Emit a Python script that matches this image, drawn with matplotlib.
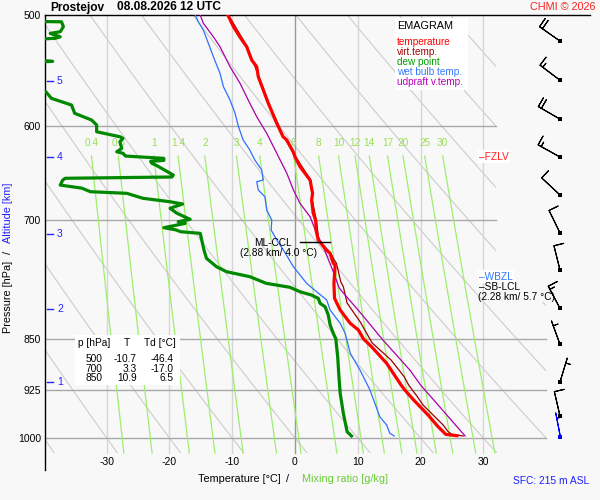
import numpy as np
import matplotlib
matplotlib.use('Agg')
import matplotlib.pyplot as plt
from matplotlib.patches import Polygon, Rectangle
from matplotlib.ticker import NullLocator

plt.rcParams['font.family'] = ['Liberation Sans', 'DejaVu Sans']

# ---------------- data ----------------
temp_p = [500, 509.7, 518.2, 526.7, 538.3, 544.2, 553.2, 565.4, 577.9, 597.2, 610.4, 613.7,
          625.6, 630.7, 641.1, 655.3, 669.7, 677.1, 692.0, 700, 711.2, 723.0, 734.9, 738.9,
          751.1, 753.2, 776.1, 795.4, 810.8, 828.7, 837.8, 850, 861.1, 884.8, 916.8, 924.4,
          939.6, 963.0, 981.7, 989.7, 994.0, 996.2]
temp_T = [-10.7, -9.8, -8.8, -7.7, -6.9, -6.1, -5.85, -5.05, -4.25, -2.9, -1.9, -1.3,
          -0.3, 0.0, 0.8, 2.4, 2.8, 2.65, 2.9, 3.3, 3.35, 3.7, 5.0, 5.6,
          6.1, 6.4, 6.2, 6.3, 7.2, 8.8, 10.1, 10.9, 12.2, 14.6, 16.9, 17.5,
          18.9, 21.2, 22.8, 23.6, 24.0, 25.8]

virt_p = [500, 526.7, 553.2, 577.9, 610.4, 630.7, 655.3, 677.1, 700, 723.0, 738.9, 745.0,
          751.1, 774.5, 780.5, 801.6, 826.9, 855.8, 880.0, 904.5, 916.8, 934.6, 947.4,
          963.0, 978.9, 989.7, 994.0, 996.7]
virt_T = [-10.6, -7.6, -5.75, -4.15, -1.8, 0.1, 2.5, 2.75, 3.4, 3.8, 5.7, 6.1,
          6.6, 7.3, 7.7, 8.3, 10.4, 12.3, 15.3, 17.4, 18.1, 19.5, 20.4,
          22.0, 23.6, 24.4, 25.0, 26.8]

dew_p = [500, 505.0, 505.6, 509.7, 513.9, 515.3, 518.2, 519.5, 521.0, 537.0, 539.0, 539.5,
         540.5, 566.0, 567.0, 573.2, 579.5, 587.4, 593.9, 598.8, 605.4, 610.4, 612.0, 615.4,
         622.1, 625.6, 627.2, 630.0, 632.4, 634.5, 635.5, 637.6, 640.0, 649.9, 652.0, 653.4,
         655.3, 660.7, 664.0, 667.9, 669.7, 675.2, 679.0, 681.5, 686.3, 692.0, 698.9, 701.6,
         703.5, 708.5, 711.0, 713.2, 715.1, 734.9, 745.0, 755.3, 761.5, 767.7, 776.1, 781.2,
         786.9, 791.1, 795.4, 802.0, 806.5, 817.5, 831.0, 842.4, 850, 875.3, 904.5, 929.4,
         960.3, 989.7, 996.7]
dew_T = [-46.4, -46.0, -37.2, -36.9, -37.4, -39.0, -37.4, -38.2, -45.0, -45.0, -39.7, -38.6,
         -45.0, -45.0, -39.7, -38.8, -35.6, -35.1, -32.4, -31.6, -31.6, -27.9, -27.4, -27.9,
         -27.6, -28.4, -27.4, -27.0, -20.9, -20.9, -23.0, -22.8, -22.0, -19.4, -19.6, -36.6,
         -37.0, -37.4, -34.0, -32.6, -26.8, -24.2, -19.9, -17.9, -19.9, -18.8, -16.7, -18.6,
         -17.5, -20.9, -19.0, -18.2, -15.1, -14.5, -14.1, -12.5, -10.9, -7.2, -4.6, -0.8,
         0.8, 2.6, 3.7, 4.0, 4.8, 5.3, 5.6, 6.1, 6.5, 6.8, 7.0, 7.2,
         7.7, 8.3, 9.0]

wet_p = [500, 505.6, 512.5, 523.8, 535.4, 550.1, 562.4, 574.8, 587.4, 600.5, 613.7, 623.8,
         634.1, 644.6, 655.3, 657.0, 666.1, 673.4, 688.3, 699.7, 711.2, 723.0, 734.9, 755.3,
         776.1, 786.9, 797.6, 810.8, 828.7, 842.4, 870.4, 894.6, 924.4, 965.7, 978.9, 992.3,
         996.7]
wet_T = [-15.9, -15.4, -14.6, -13.8, -13.0, -11.95, -11.4, -10.35, -9.55, -9.0, -8.25, -7.2,
         -6.4, -5.3, -5.05, -6.1, -5.85, -4.8, -4.5, -3.7, -3.8, -2.9, -1.85, -0.25,
         1.85, 3.45, 5.05, 5.6, 7.2, 8.0, 8.8, 10.35, 11.95, 13.5, 14.6, 15.1,
         15.8]

updr_p = [500, 506.9, 518.2, 526.7, 544.2, 559.3, 574.8, 590.7, 607.0, 627.2, 648.1, 666.1,
          680.8, 695.9, 715.1, 731.0, 761.5, 781.2, 784.7, 815.2, 851.6, 894.6, 916.8, 947.4,
          996.7]
updr_T = [-15.1, -14.6, -13.0, -11.95, -10.35, -8.75, -7.45, -6.1, -4.5, -2.9, -1.3, -0.25,
          0.8, 2.4, 3.45, 4.5, 6.1, 7.0, 7.3, 10.5, 14.0, 18.3, 20.0, 22.8,
          27.1]

# wind (knots, direction from)
barb_p = [521.8, 556.4, 593.0, 631.0, 671.5, 714.6, 759.4, 808.6, 857.7, 912.2, 964.6, 997.9]
wind_dir = [305, 307, 300, 299, 313, 334, 346, 332, 340, 17, 347, 349]
wind_kt = [20, 15, 20, 15, 10, 10, 10, 15, 5, 5, 10, 5]

# table
table_p = [500, 700, 850]
table_T = [-10.7, 3.3, 10.9]
table_Td = [-46.4, -17.0, 6.5]

# levels
fzlv_p = 630.7
wbzl_p = 767.7
sblcl_p = 781.2
mlccl_p = 725.7
mlccl_T = [0.8, 5.6]

p_ticks = [500, 600, 700, 850, 925, 1000]
t_ticks = [-30, -20, -10, 0, 10, 20, 30]
alt_km = [1, 2, 3, 4, 5]
alt_p = [912.3, 809.5, 715.8, 631.0, 557.1]
mix_ratios = [0.4, 0.6, 1, 1.4, 2, 3, 4, 6, 8, 10, 12, 14, 17, 20, 25, 30]
mix_labels = ['0.4', '0.6', '1', '1.4', '2', '3', '4', '6', '8', '10', '12', '14', '17', '20', '25', '30']

# ---------------- figure ----------------
W, H = 600, 500


def fx(x):
    return x / W


def fy(y):
    return 1 - y / H


def px2T(x):
    return (x - 295) / 6.277


def px2p(y):
    return 1000 * np.exp((y - 438) / 610.3)


fig = plt.figure(figsize=(6, 5), dpi=100)
fig.patch.set_facecolor('#f8f8f8')
ax = fig.add_axes([fx(45), 1 - 470 / H, 545 / W, 455 / H])
ax.set_facecolor('none')
ax.set_yscale('log')
ax.set_xlim(px2T(45), px2T(590))
ax.set_ylim(px2p(470), px2p(15))
ax.yaxis.set_minor_locator(NullLocator())
ax.set_yticks(p_ticks)
ax.set_yticklabels([str(p) for p in p_ticks], fontsize=7.5)
ax.tick_params(axis='y', length=0, pad=3)
ax.set_xticks([])
for s in ['right', 'bottom']:
    ax.spines[s].set_visible(False)
ax.spines['left'].set_linewidth(1)
ax.spines['top'].set_linewidth(1)

clip = Polygon([(-40, 500), (32, 500), (32, 800), (40, 800), (40, 1025), (-40, 1025)],
               closed=True, transform=ax.transData, facecolor='none', edgecolor='none')

pp = np.geomspace(500, 1025, 120)
for T0 in range(-40, 140, 10):
    tt = (T0 + 273.15) * (pp / 1000) ** 0.2857 - 273.15
    ln, = ax.plot(tt, pp, color='#cccccc', lw=0.8, zorder=1)
    ln.set_clip_path(clip)

for t in t_ticks:
    ax.plot([t, t], [500, 1025], color='#999999' if t == 0 else '#d6d6d6', lw=1, zorder=1.2)

for p in p_ticks[1:]:
    tmax = 32 if p < 800 else 40
    ax.plot([-40, tmax], [p, p], color='#a8a8a8', lw=1, zorder=1.3)

pm = np.linspace(630, 1025, 60)
for w, lab in zip(mix_ratios, mix_labels):
    e = w * pm / (622 + w)
    g = np.log(e / 6.112)
    tm = 243.5 * g / (17.67 - g)
    ax.plot(tm, pm, color='#9eee6e', lw=0.9, zorder=1.4)
    ax.text(tm[0], px2p(143), lab, color='#99dd55', fontsize=7.2, ha='center', va='center', zorder=3)

# white boxes
fig.patches.append(Rectangle((fx(395), fy(90)), 73 / W, 72 / H, transform=fig.transFigure,
                             facecolor='white', edgecolor='none', zorder=1))
fig.patches.append(Rectangle((fx(75), fy(385)), 105 / W, 50 / H, transform=fig.transFigure,
                             facecolor='white', edgecolor='none', zorder=1))

# curves
ax.plot(virt_T, virt_p, color='#990000', lw=0.9, zorder=4)
ax.plot(temp_T, temp_p, color='#ff0000', lw=2.3, zorder=5)
ax.plot(dew_T, dew_p, color='#008800', lw=2.3, zorder=5)
ax.plot(wet_T, wet_p, color='#2f6fff', lw=0.9, zorder=4)
ax.plot(updr_T, updr_p, color='#aa00aa', lw=0.9, zorder=4.5)

# CCL
ax.plot(mlccl_T, [mlccl_p] * 2, color='black', lw=1, zorder=6)
ax.text(px2T(273), px2p(243.3), 'ML-CCL', fontsize=7.3, ha='center', va='center', zorder=6)
ax.text(px2T(279), px2p(253.3), '(2.88 km/ 4.0 °C)', fontsize=7.3, ha='center', va='center', zorder=6)

bb = dict(facecolor='white', edgecolor='none', pad=1.0)
ax.text(px2T(479), fzlv_p, '–FZLV', color='#ff2020', fontsize=7.3, ha='left', va='center', bbox=bb, zorder=6)
ax.text(px2T(479), wbzl_p, '–WBZL', color='#3377ff', fontsize=7.3, ha='left', va='center', bbox=bb, zorder=6)
ax.text(px2T(479), sblcl_p, '–SB-LCL', color='black', fontsize=7.3, ha='left', va='center', zorder=6)
ax.text(px2T(516), px2p(297.3), '(2.28 km/ 5.7 °C)', color='black', fontsize=7.3, ha='center', va='center', zorder=6)

# x tick labels
for t in t_ticks:
    ax.text(t, px2p(462), str(t), fontsize=7.5, ha='center', va='center')

# altitude ticks
for km, p in zip(alt_km, alt_p):
    ax.plot([px2T(47), px2T(53)], [p, p], color='#2222ff', lw=1, zorder=6)
    ax.text(px2T(57), p, str(km), color='#2222ff', fontsize=7.5, ha='left', va='center', zorder=6)

# wind barbs
d = np.radians(wind_dir)
s = np.array(wind_kt, float)
u = -s * np.sin(d)
v = -s * np.cos(d)
bx = np.full(len(barb_p), px2T(560))
szs = dict(spacing=0.14, height=0.4, width=0.0)
ax.barbs(bx[:-1], barb_p[:-1], u[:-1], v[:-1], length=6, linewidth=0.8, color='black',
         sizes=szs, clip_on=False, zorder=7)
ax.barbs(bx[-1:], barb_p[-1:], u[-1:], v[-1:], length=6, linewidth=0.8, color='#0000ff',
         sizes=szs, clip_on=False, zorder=7)
ax.plot(bx[:-1], barb_p[:-1], 's', ms=2.3, mew=0, color='black', clip_on=False, zorder=8)
ax.plot(bx[-1:], barb_p[-1:], 's', ms=2.3, mew=0, color='#0000ff', clip_on=False, zorder=8)

# ---------------- figure texts ----------------
fig.text(fx(50), fy(7.5), 'Prostejov', fontsize=8.6, fontweight='bold', ha='left', va='center')
fig.text(fx(117), fy(7.5), '08.08.2026 12 UTC', fontsize=8.6, fontweight='bold', ha='left', va='center')
fig.text(fx(596), fy(7.5), 'CHMI © 2026', color='#ff2020', fontsize=7.8, ha='right', va='center')

fig.text(fx(397), fy(26), 'EMAGRAM', fontsize=7.8, ha='left', va='center')
leg = [('temperature', '#ff0000'), ('virt.temp.', '#a00000'), ('dew point', '#00a000'),
       ('wet bulb temp.', '#3377ff'), ('udpraft v.temp.', '#bb00bb')]
for i, (lab, c) in enumerate(leg):
    fig.text(fx(397), fy(42 + 10 * i), lab, color=c, fontsize=7.2, ha='left', va='center')

fig.text(fx(78), fy(343.3), 'p [hPa]', fontsize=7.3, ha='left', va='center')
fig.text(fx(127), fy(343.3), 'T', fontsize=7.3, ha='center', va='center')
fig.text(fx(144), fy(343.3), 'Td [°C]', fontsize=7.3, ha='left', va='center')
for i, (p, t, td) in enumerate(zip(table_p, table_T, table_Td)):
    yy = fy(358.7 + 9.8 * i)
    fig.text(fx(102), yy, str(p), fontsize=7.3, ha='right', va='center')
    fig.text(fx(137), yy, f'{t:.1f}', fontsize=7.3, ha='right', va='center')
    fig.text(fx(174), yy, f'{td:.1f}', fontsize=7.3, ha='right', va='center')

fig.text(fx(239), fy(479), 'Temperature [°C]', fontsize=7.8, ha='center', va='center')
fig.text(fx(288), fy(479), '/', fontsize=7.8, ha='center', va='center')
fig.text(fx(344.7), fy(479), 'Mixing ratio [g/kg]', color='#66cc33', fontsize=7.8, ha='center', va='center')
fig.text(fx(589), fy(481), 'SFC: 215 m ASL', color='#2020ff', fontsize=7.4, ha='right', va='center')

fig.text(fx(8), fy(297), 'Pressure [hPa]', fontsize=7.8, rotation=90, ha='center', va='center')
fig.text(fx(8), fy(253), '/', fontsize=7.8, rotation=90, ha='center', va='center')
fig.text(fx(8), fy(213), 'Altitude [km]', color='#2020ff', fontsize=7.8, rotation=90, ha='center', va='center')

fig.savefig('out.png', dpi=100, facecolor=fig.get_facecolor())
